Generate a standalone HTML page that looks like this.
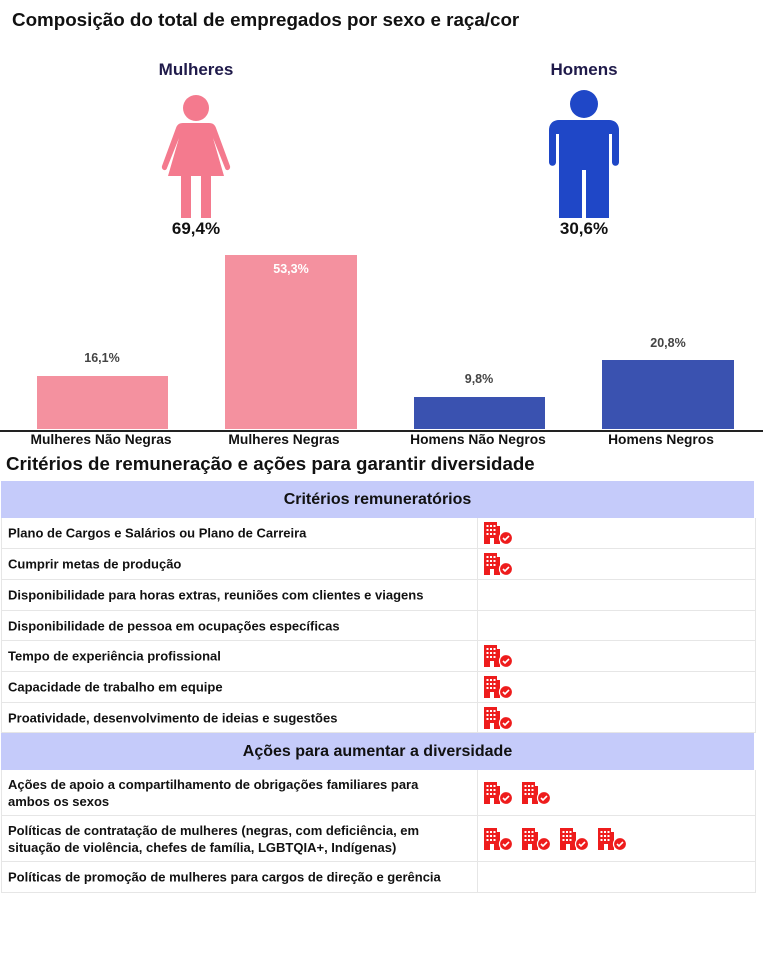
<!DOCTYPE html>
<html><head><meta charset="utf-8"><style>
body{margin:0;width:768px;height:960px;background:#fff;position:relative;font-family:"Liberation Sans",Arial,sans-serif;overflow:hidden}
.a{position:absolute;white-space:nowrap}
.b{font-weight:bold}
.c{transform:translateX(-50%)}
.row{position:absolute;left:1px;width:753px;border-bottom:1px solid #e6e6e6;border-left:1px solid #e6e6e6;border-right:1px solid #e6e6e6;font-size:13px;font-weight:bold;color:#111}
.row .t{position:absolute;left:6px;top:50%;transform:translateY(-50%);line-height:17px}
.row .s{position:absolute;left:475px;top:0;bottom:0;border-left:1px solid #e6e6e6}
.hd{position:absolute;left:1px;width:753px;background:#c5cbfa;font-size:16px;font-weight:bold;text-align:center;color:#111}
.ic{position:absolute;top:50%;transform:translateY(-50%)}
</style></head><body>
<svg width="0" height="0" style="position:absolute"><defs>
<symbol id="bd" viewBox="0 0 30 24">
<path d="M1 1h13v4h3v18h-6v-6h-4v6H1z" fill="#ee1c1c"/>
<g fill="#fff"><rect x="3.5" y="4" width="2" height="2"/><rect x="7" y="4" width="2" height="2"/><rect x="10.5" y="4" width="2" height="2"/><rect x="3.5" y="8" width="2" height="2"/><rect x="7" y="8" width="2" height="2"/><rect x="10.5" y="8" width="2" height="2"/><rect x="3.5" y="12" width="2" height="2"/><rect x="7" y="12" width="2" height="2"/><rect x="10.5" y="12" width="2" height="2"/></g>
<circle cx="23" cy="17" r="6.5" fill="#ee1c1c" stroke="#fff" stroke-width="1.2"/>
<path d="M20 17l2 2 4-4" stroke="#fff" stroke-width="1.6" fill="none"/>
</symbol></defs></svg>

<div class="a b" style="left:12px;top:9px;font-size:18.8px;color:#111">Composição do total de empregados por sexo e raça/cor</div>
<div class="a b c" style="left:196px;top:60px;font-size:17px;color:#1f1a4a">Mulheres</div>
<div class="a b c" style="left:584px;top:60px;font-size:17px;color:#1f1a4a">Homens</div>

<svg class="a" style="left:155px;top:88px" width="80" height="132" viewBox="0 0 80 132">
<g fill="#f47a8e">
<circle cx="41" cy="20" r="13"/>
<path d="M28 35H54C58 35 60 37 61 40L75 78C76 82 71 84 70 80L58 50L69 88H56V130H46V88H36V130H26V88H13L24 50L12 80C11 84 6 82 7 78L21 40C22 37 24 35 28 35Z"/>
</g></svg>
<svg class="a" style="left:545px;top:88px" width="80" height="132" viewBox="0 0 80 132">
<g fill="#1f47c7">
<circle cx="39" cy="16" r="14"/>
<path d="M14 32H64C70 32 74 36 74 42V74C74 79 67 79 67 74V46H64V130H41V82H37V130H14V46H11V74C11 79 4 79 4 74V42C4 36 8 32 14 32Z"/>
</g></svg>
<div class="a b c" style="left:196px;top:219px;font-size:17px;color:#111">69,4%</div>
<div class="a b c" style="left:584px;top:219px;font-size:17px;color:#111">30,6%</div>

<div class="a" style="left:37px;top:376px;width:131px;height:53px;background:#f4919f"></div>
<div class="a" style="left:225px;top:255px;width:132px;height:174px;background:#f4919f"></div>
<div class="a" style="left:414px;top:397px;width:131px;height:32px;background:#3a52b0"></div>
<div class="a" style="left:602px;top:360px;width:132px;height:69px;background:#3a52b0"></div>
<div class="a c b" style="left:102px;top:351px;font-size:12.5px;color:#444">16,1%</div>
<div class="a c b" style="left:291px;top:262px;font-size:12.5px;color:#fff">53,3%</div>
<div class="a c b" style="left:479px;top:372px;font-size:12.5px;color:#444">9,8%</div>
<div class="a c b" style="left:668px;top:336px;font-size:12.5px;color:#444">20,8%</div>
<div class="a" style="left:0;top:430px;width:763px;height:1.5px;background:#222"></div>
<div class="a b c" style="left:101px;top:432px;font-size:13.8px;color:#111">Mulheres Não Negras</div>
<div class="a b c" style="left:284px;top:432px;font-size:13.8px;color:#111">Mulheres Negras</div>
<div class="a b c" style="left:478px;top:432px;font-size:13.8px;color:#111">Homens Não Negros</div>
<div class="a b c" style="left:661px;top:432px;font-size:13.8px;color:#111">Homens Negros</div>

<div class="a b" style="left:6px;top:453px;font-size:18.7px;color:#111">Critérios de remuneração e ações para garantir diversidade</div>

<div class="hd" style="top:481px;height:37px;line-height:37px">Critérios remuneratórios</div>
<div class="row" style="top:518px;height:30px"><div class="t">Plano de Cargos e Salários ou Plano de Carreira</div><div class="s"></div><svg class="ic" style="left:481px" width="30" height="24"><use href="#bd"/></svg></div>
<div class="row" style="top:549px;height:30px"><div class="t">Cumprir metas de produção</div><div class="s"></div><svg class="ic" style="left:481px" width="30" height="24"><use href="#bd"/></svg></div>
<div class="row" style="top:580px;height:30px"><div class="t">Disponibilidade para horas extras, reuniões com clientes e viagens</div><div class="s"></div></div>
<div class="row" style="top:611px;height:29px"><div class="t">Disponibilidade de pessoa em ocupações específicas</div><div class="s"></div></div>
<div class="row" style="top:641px;height:30px"><div class="t">Tempo de experiência profissional</div><div class="s"></div><svg class="ic" style="left:481px" width="30" height="24"><use href="#bd"/></svg></div>
<div class="row" style="top:672px;height:30px"><div class="t">Capacidade de trabalho em equipe</div><div class="s"></div><svg class="ic" style="left:481px" width="30" height="24"><use href="#bd"/></svg></div>
<div class="row" style="top:703px;height:29px"><div class="t">Proatividade, desenvolvimento de ideias e sugestões</div><div class="s"></div><svg class="ic" style="left:481px" width="30" height="24"><use href="#bd"/></svg></div>
<div class="hd" style="top:733px;height:37px;line-height:37px">Ações para aumentar a diversidade</div>
<div class="row" style="top:770px;height:45px"><div class="t">Ações de apoio a compartilhamento de obrigações familiares para<br>ambos os sexos</div><div class="s"></div><svg class="ic" style="left:481px" width="30" height="24"><use href="#bd"/></svg><svg class="ic" style="left:519px" width="30" height="24"><use href="#bd"/></svg></div>
<div class="row" style="top:816px;height:45px"><div class="t">Políticas de contratação de mulheres (negras, com deficiência, em<br>situação de violência, chefes de família, LGBTQIA+, Indígenas)</div><div class="s"></div><svg class="ic" style="left:481px" width="30" height="24"><use href="#bd"/></svg><svg class="ic" style="left:519px" width="30" height="24"><use href="#bd"/></svg><svg class="ic" style="left:557px" width="30" height="24"><use href="#bd"/></svg><svg class="ic" style="left:595px" width="30" height="24"><use href="#bd"/></svg></div>
<div class="row" style="top:862px;height:30px"><div class="t">Políticas de promoção de mulheres para cargos de direção e gerência</div><div class="s"></div></div>
</body></html>
